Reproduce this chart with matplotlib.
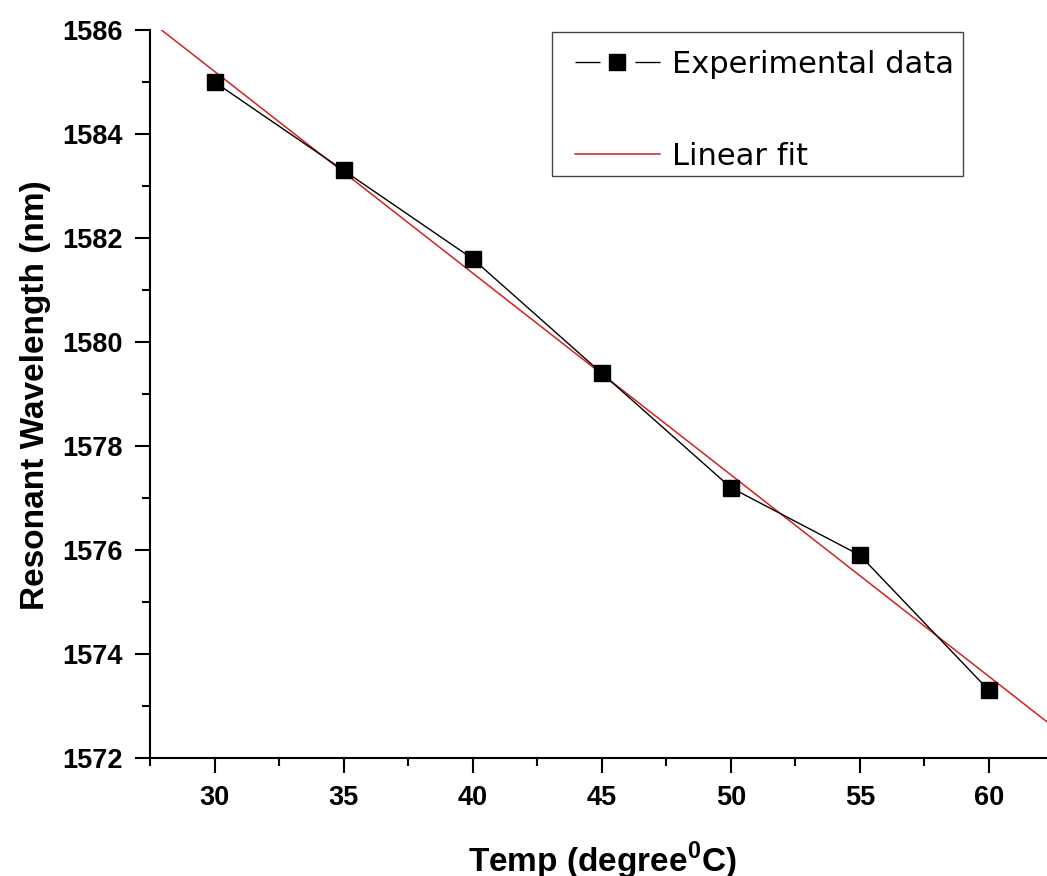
import numpy as np
import matplotlib
matplotlib.use("Agg")
import matplotlib.pyplot as plt
from matplotlib.ticker import MultipleLocator
from matplotlib.patches import Rectangle

plt.rcParams['font.family'] = ['Liberation Sans', 'DejaVu Sans']
plt.rcParams['mathtext.fontset'] = 'custom'
plt.rcParams['mathtext.rm'] = 'Liberation Sans'
plt.rcParams['mathtext.bf'] = 'Liberation Sans:bold'

temp = [30, 35, 40, 45, 50, 55, 60]
wavelength = [1585.0, 1583.3, 1581.6, 1579.4, 1577.2, 1575.9, 1573.3]
x_label = r'Temp (degree$^{\mathbf{0}}$C)'
y_label = 'Resonant Wavelength (nm)'
legend_labels = ['Experimental data', 'Linear fit']

W, H = 1047, 876
fig = plt.figure(figsize=(W/100, H/100), dpi=100)
ax = fig.add_axes([150/W, 118/H, 897/W, 728/H])

slope, intercept = np.polyfit(temp, wavelength, 1)
xf = np.array([27.9, 63.0])
ax.plot(temp, wavelength, color='black', lw=1.0, marker='s', markersize=11,
        markerfacecolor='black', markeredgecolor='black', label=legend_labels[0], zorder=3)
ax.plot(xf, slope*xf + intercept, color='#d42020', lw=1.1, label=legend_labels[1], zorder=2)

ax.set_xlim(27.5, 62.25)
ax.set_ylim(1572, 1586)
ax.xaxis.set_major_locator(MultipleLocator(5))
ax.xaxis.set_minor_locator(MultipleLocator(2.5))
ax.yaxis.set_major_locator(MultipleLocator(2))
ax.yaxis.set_minor_locator(MultipleLocator(1))
for s in ['top', 'right']:
    ax.spines[s].set_visible(False)
for s in ['left', 'bottom']:
    ax.spines[s].set_linewidth(1.5)
ax.tick_params(which='major', direction='out', length=10.5, width=1.5, labelsize=19.5, pad=9)
ax.tick_params(which='minor', direction='out', length=5.8, width=1.5)
for lab in ax.get_xticklabels() + ax.get_yticklabels():
    lab.set_fontweight('bold')

fig.text(602/W, 1 - 872/H, x_label, ha='center', va='baseline', fontsize=24, fontweight='bold')
fig.text(36/W, 1 - 395/H, y_label, ha='center', va='center', rotation=90,
         fontsize=24, fontweight='bold')

# legend frame drawn separately (below the legend)
frame = Rectangle((552/W, 1 - 176/H), (963-552)/W, (176-32)/H,
                  transform=fig.transFigure, facecolor='white',
                  edgecolor='#444444', lw=1.0, zorder=4, clip_on=False)
ax.add_patch(frame)
leg = ax.legend(loc='upper left', bbox_to_anchor=(575/W, 1 - 50/H),
                bbox_transform=fig.transFigure, frameon=False,
                prop={'family': 'DejaVu Sans', 'size': 22},
                handlelength=2.78, labelspacing=2.06, borderpad=0.0, handletextpad=0.39,
                borderaxespad=0)
leg.set_zorder(6)
h0 = leg.legend_handles[0]
h0.set_linestyle((0, (18, 25.2)))
h0.set_markersize(12)

fig.savefig('out.png', dpi=100)
